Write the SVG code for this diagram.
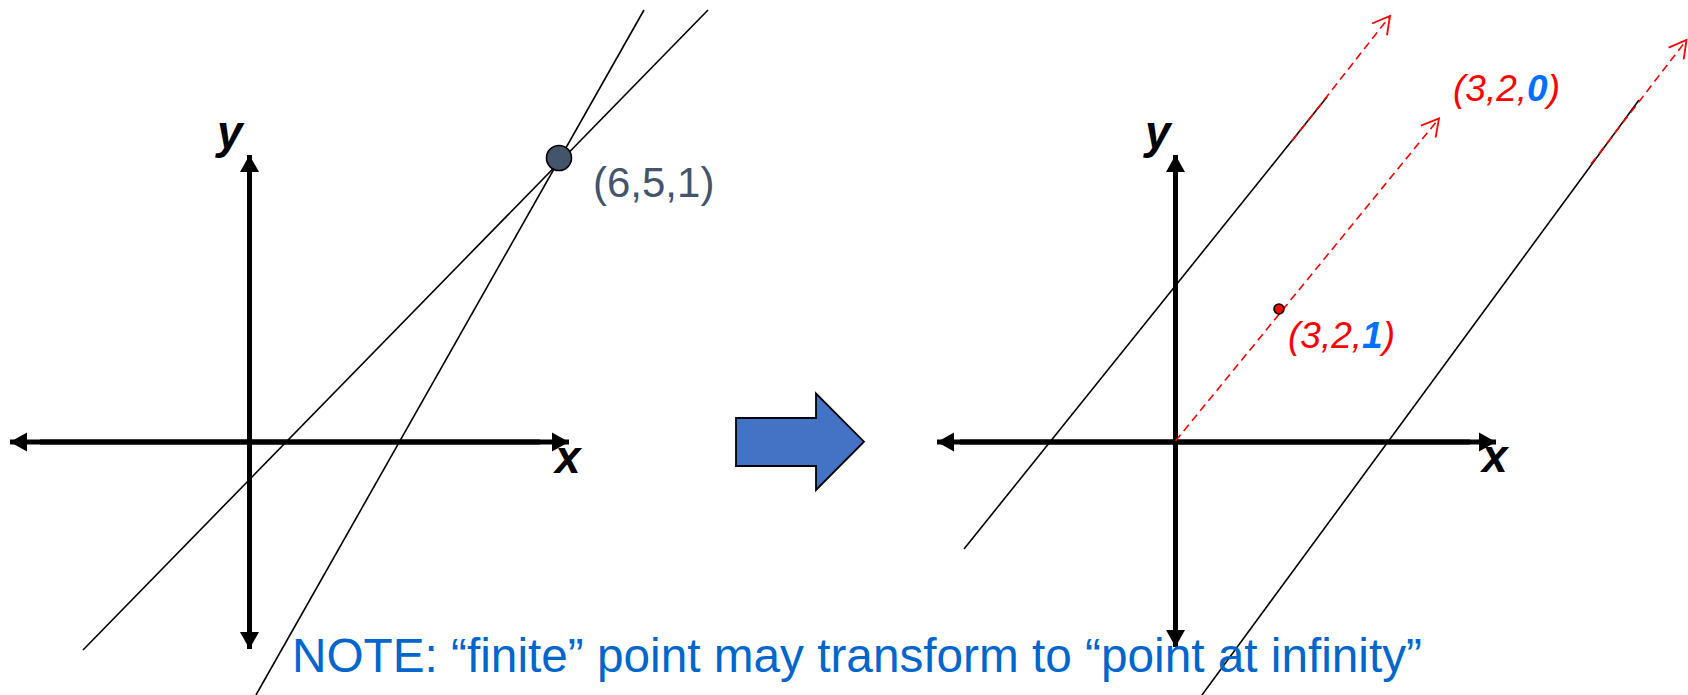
<svg xmlns="http://www.w3.org/2000/svg" width="1688" height="695" viewBox="0 0 1688 695">
<defs>
<style>
.axis{stroke:#000;stroke-width:5;fill:none}
.thin{stroke:#000;stroke-width:1.6;fill:none}
.dash{stroke:#FF0000;stroke-width:1.6;fill:none;stroke-dasharray:8 5}
.lbl{font-family:"Liberation Sans",Arial,sans-serif;font-style:italic;font-weight:bold;font-size:46px;fill:#000}
.coord{font-family:"Liberation Sans",Arial,sans-serif;font-style:italic;font-size:37px;fill:#FF0000}
.blue{fill:#0070FF;font-weight:bold}
</style>
<marker id="ah" viewBox="-18 -10 20 20" refX="0" refY="0" markerWidth="20" markerHeight="20" markerUnits="userSpaceOnUse" orient="auto">
<path d="M-17 -9.5 L0 0 L-17 9.5 Z" fill="#000"/>
</marker>
<marker id="oh" viewBox="-20 -12 22 24" refX="0" refY="0" markerWidth="22" markerHeight="24" markerUnits="userSpaceOnUse" orient="auto">
<path d="M-17 -9.5 L0 0 L-17 9.5" fill="none" stroke="#FF0000" stroke-width="1.8"/>
</marker>
</defs>
<rect width="1688" height="695" fill="#fff"/>

<g id="left-diagram">
<g id="left-axes">
<line class="axis" x1="40" y1="442" x2="569" y2="442" marker-end="url(#ah)"/>
<line class="axis" x1="540" y1="442" x2="10" y2="442" marker-end="url(#ah)"/>
<line class="axis" x1="249.5" y1="620" x2="249.5" y2="155" marker-end="url(#ah)"/>
<line class="axis" x1="249.5" y1="180" x2="249.5" y2="649" marker-end="url(#ah)"/>
<text class="lbl" x="217" y="148">y</text>
<text class="lbl" x="555" y="473">x</text>
</g>
<g id="left-lines">
<line class="thin" x1="644" y1="10" x2="256" y2="695"/>
<line class="thin" x1="708" y1="10" x2="83" y2="650"/>
</g>
<g id="point-651">
<circle cx="559" cy="158" r="12.5" fill="#44546A" stroke="#000" stroke-width="1.6"/>
<text x="593" y="197" font-family="Liberation Sans, Arial, sans-serif" font-size="42" fill="#44546A">(6,5,1)</text>
</g>
</g>

<g id="transform-arrow">
<polygon points="736,418 816,418 816,393.5 864,441.7 816,490 816,466 736,466" fill="#4472C4" stroke="#000" stroke-width="1.8"/>
</g>

<g id="right-diagram">
<g id="right-axes">
<line class="axis" x1="960" y1="442" x2="1496" y2="442" marker-end="url(#ah)"/>
<line class="axis" x1="1470" y1="442" x2="937" y2="442" marker-end="url(#ah)"/>
<line class="axis" x1="1175.5" y1="620" x2="1175.5" y2="155" marker-end="url(#ah)"/>
<line class="axis" x1="1175.5" y1="180" x2="1175.5" y2="647" marker-end="url(#ah)"/>
<text class="lbl" x="1145" y="148">y</text>
<text class="lbl" x="1482" y="472">x</text>
</g>
<g id="right-lines">
<line class="thin" x1="964" y1="549" x2="1327" y2="97"/>
<line class="thin" x1="1202" y1="695" x2="1639" y2="100"/>
</g>
<g id="connectors">
<line class="dash" x1="1292" y1="141" x2="1390" y2="16" marker-end="url(#oh)"/>
<line class="dash" x1="1591" y1="164" x2="1686.5" y2="40" marker-end="url(#oh)"/>
<line class="dash" x1="1175.5" y1="441" x2="1439" y2="118.5" marker-end="url(#oh)"/>
</g>
<g id="point-321">
<circle cx="1279" cy="309" r="5" fill="#FF0000" stroke="#000" stroke-width="1.6"/>
<text class="coord" x="1288" y="348">(3,2,<tspan class="blue">1</tspan>)</text>
</g>
<g id="point-320">
<text class="coord" x="1453" y="101">(3,2,<tspan class="blue">0</tspan>)</text>
</g>
</g>

<g id="note">
<text x="292" y="672" font-family="Liberation Sans, Arial, sans-serif" font-size="48" fill="#0066CC" textLength="1130" lengthAdjust="spacingAndGlyphs">NOTE: “finite” point may transform to “point at infinity”</text>
</g>
</svg>
